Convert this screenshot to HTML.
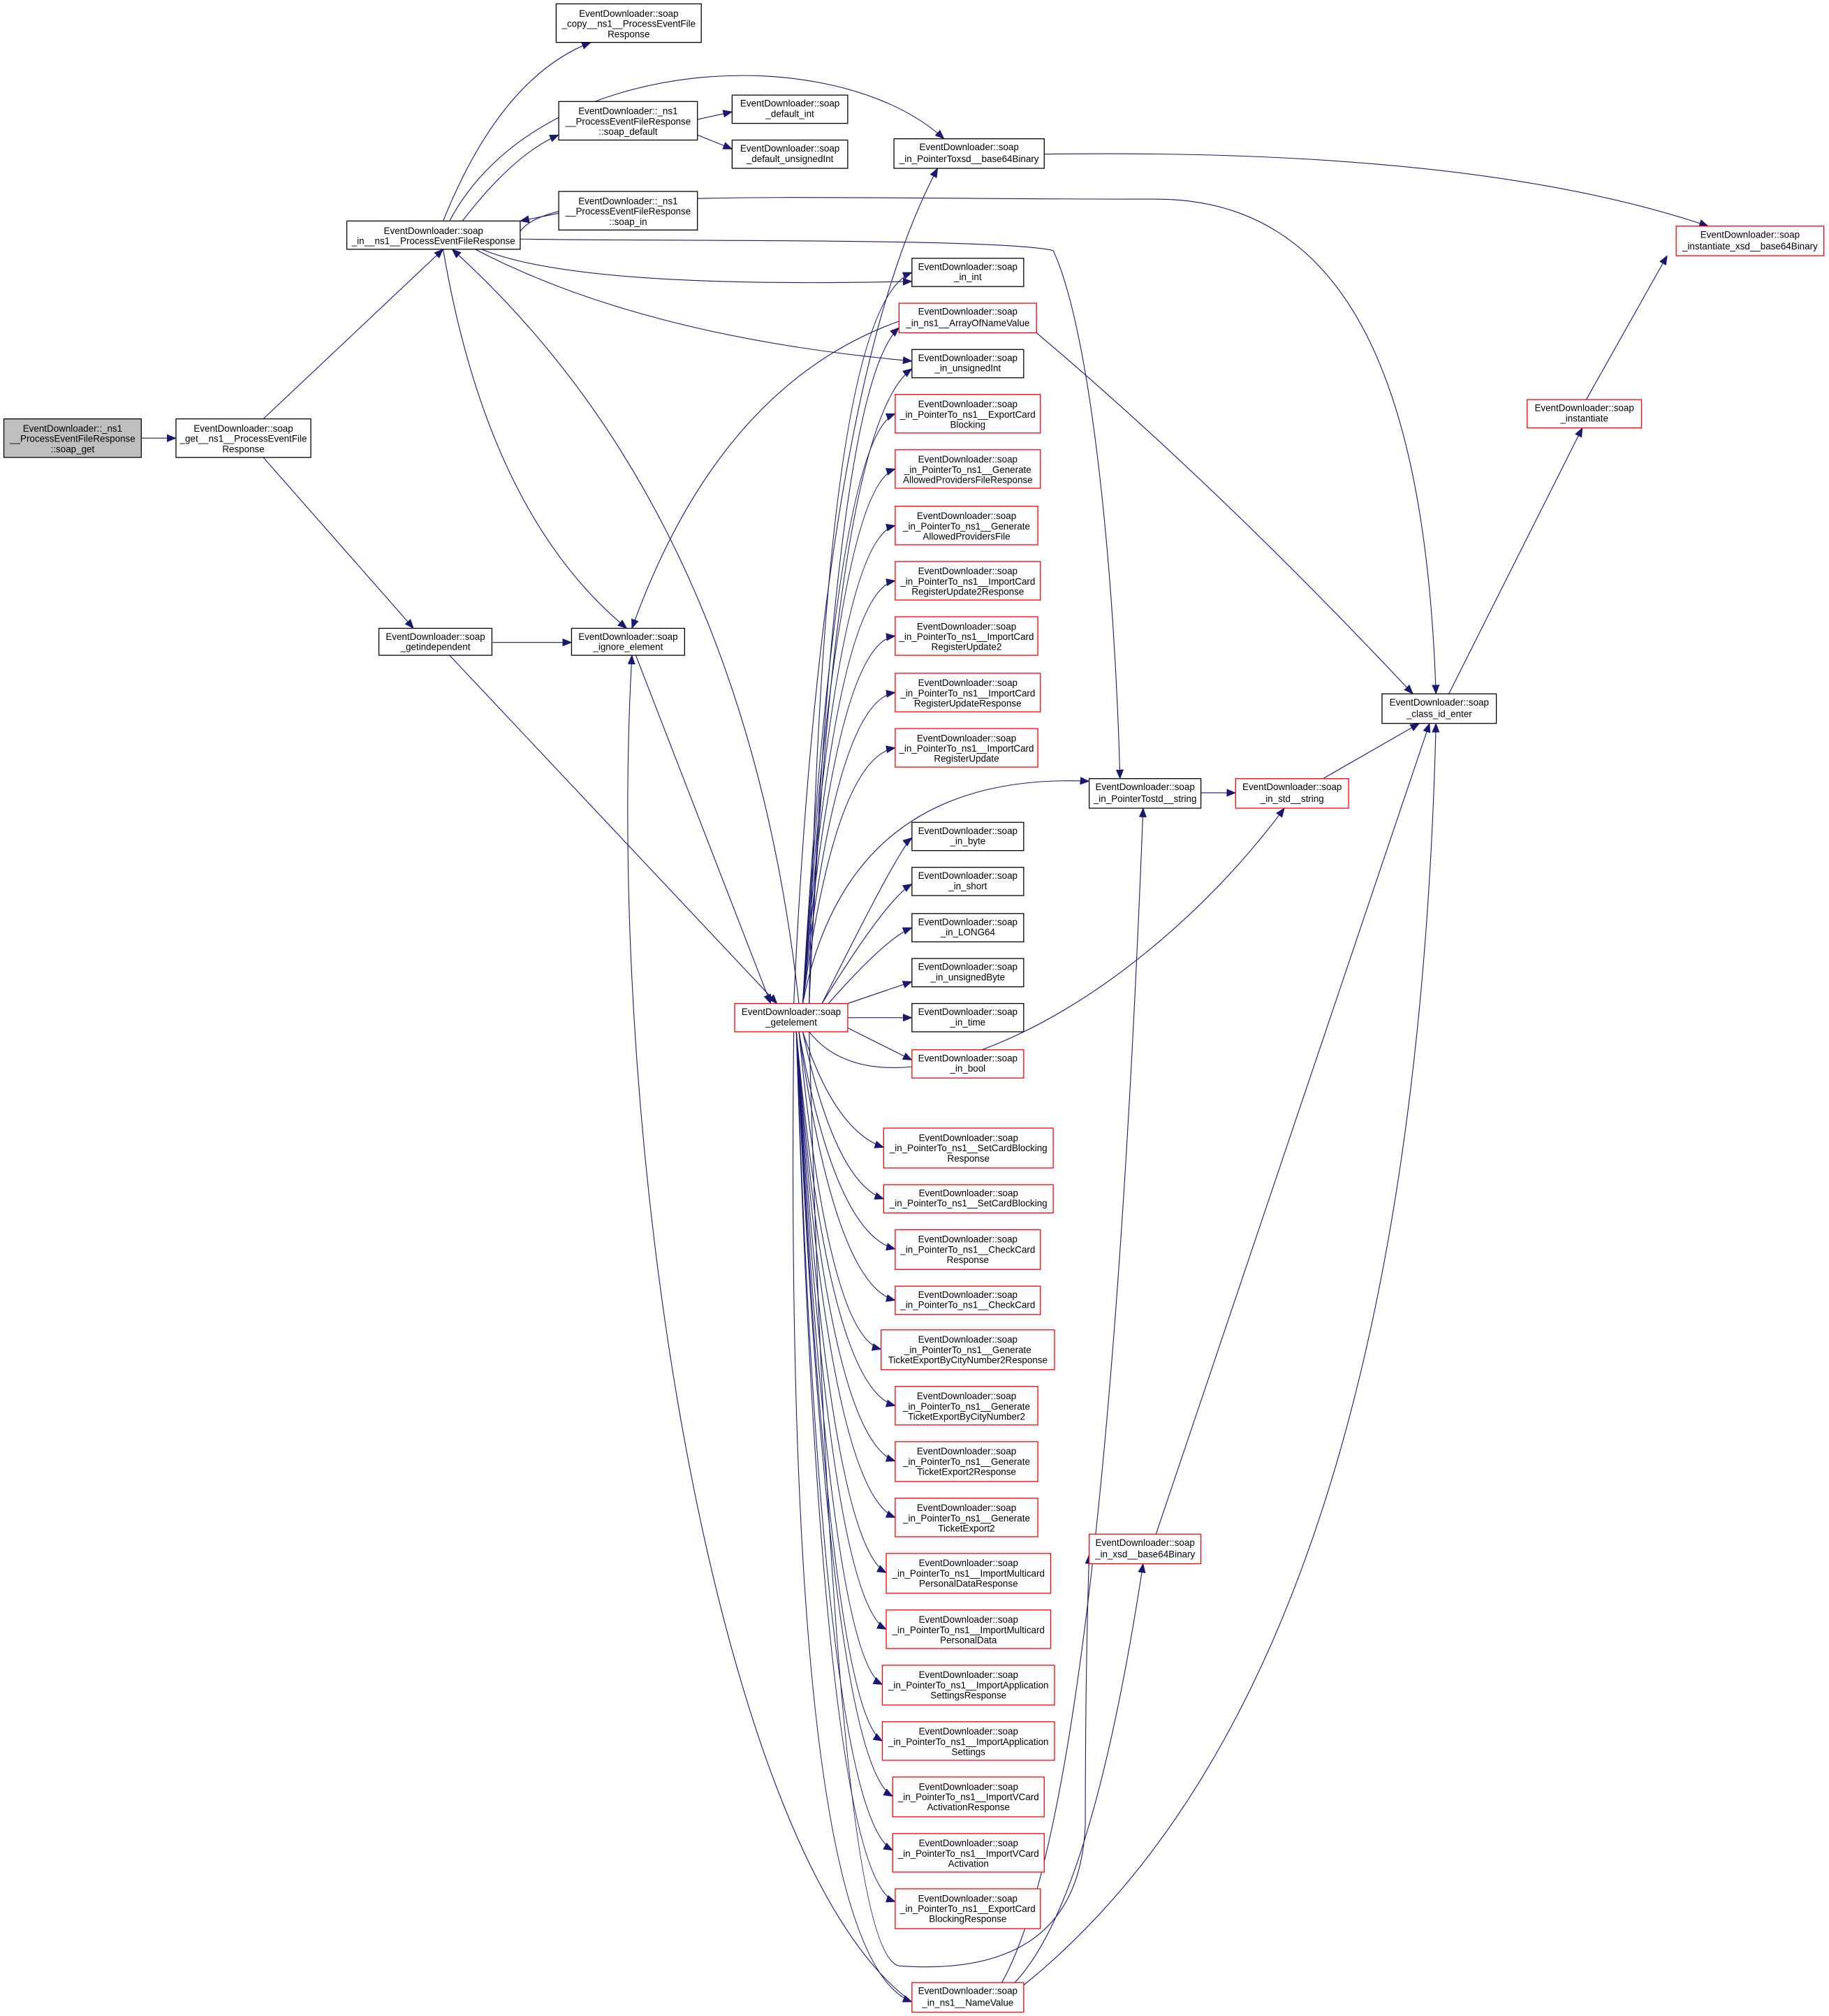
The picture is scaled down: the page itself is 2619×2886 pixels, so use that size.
<!DOCTYPE html>
<html><head><meta charset="utf-8"><style>
html,body{margin:0;padding:0;background:#fff;}
svg{display:block;}
text{font-family:"Liberation Sans",sans-serif;font-size:7.3px;fill:#000;text-anchor:middle;}
.b{fill:#fff;stroke:#000;stroke-width:0.7;}
.r{fill:#fff;stroke:#ff0000;stroke-width:0.7;}
.g{fill:#bfbfbf;stroke:#000;stroke-width:0.7;}
path{fill:none;stroke:#191970;stroke-width:0.6;}
</style></head><body>
<svg width="2619" height="2886" viewBox="0 0 1424 1569" preserveAspectRatio="none" xmlns="http://www.w3.org/2000/svg">
<defs><marker id="a" viewBox="0 0 10 10" refX="10" refY="5" markerWidth="7" markerHeight="7" markerUnits="userSpaceOnUse" orient="auto"><path d="M0,1 L10,5 L0,9 Z" style="fill:#191970;stroke:#191970"/></marker></defs>
<g marker-end="url(#a)">
<path d="M110,341 L137,341"/>
<path d="M205,326 L345,194"/>
<path d="M205,356 L322,489"/>
<path d="M383,500 L445,500"/>
<path d="M350,510 L605,781"/>
<path d="M345,172 Q390,60 460,33"/>
<path d="M360,172 Q400,120 435,105"/>
<path d="M543,93 L570,87"/>
<path d="M543,105 L570,116"/>
<path d="M435,166 L405,172"/>
<path d="M350,172 C420,40 650,30 735,108"/>
<path d="M405,180 C430,145 600,155 900,155 C1050,155 1110,300 1118,540"/>
<path d="M405,186 C500,188 780,185 820,195 C850,260 868,450 872,606"/>
<path d="M375,194 Q450,225 710,219"/>
<path d="M370,194 Q500,262 710,281"/>
<path d="M345,194 Q380,400 488,489"/>
<path d="M622,781 Q580,400 352,194"/>
<path d="M495,510 L600,781"/>
<path d="M700,250 Q560,300 492,489"/>
<path d="M710,1558 C560,1450 470,900 492,510"/>
<path d="M618,781 Q640,300 730,131"/>
<path d="M630,781 Q640,240 710,212"/>
<path d="M630,781 Q650,300 700,255"/>
<path d="M630,781 Q650,330 710,287"/>
<path d="M625,781 Q650,340 697,322"/>
<path d="M625,781 Q650,380 697,365"/>
<path d="M625,781 Q650,420 697,409"/>
<path d="M625,781 Q650,460 697,452"/>
<path d="M625,781 Q650,500 697,495"/>
<path d="M625,781 Q650,545 697,539"/>
<path d="M625,781 Q650,590 697,582"/>
<path d="M625,781 Q660,600 848,608"/>
<path d="M640,781 Q700,660 710,652"/>
<path d="M640,781 Q690,700 710,688"/>
<path d="M645,781 Q690,730 710,722"/>
<path d="M660,781 L710,764"/>
<path d="M660,792 L710,792"/>
<path d="M660,800 L710,825"/>
<path d="M630,803 C690,880 880,790 1000,629"/>
<path d="M625,803 Q650,880 688,893"/>
<path d="M625,803 Q650,920 688,933"/>
<path d="M622,803 Q650,960 697,972"/>
<path d="M622,803 Q650,1000 697,1012"/>
<path d="M622,803 Q645,1040 686,1050"/>
<path d="M620,803 Q645,1080 697,1094"/>
<path d="M620,803 Q645,1120 697,1137"/>
<path d="M620,803 Q645,1160 697,1181"/>
<path d="M620,803 Q645,1200 690,1224"/>
<path d="M620,803 Q645,1245 690,1268"/>
<path d="M620,803 Q645,1290 687,1311"/>
<path d="M620,803 Q645,1330 687,1355"/>
<path d="M620,803 Q645,1370 695,1398"/>
<path d="M620,803 Q640,1410 695,1440"/>
<path d="M620,803 Q640,1460 697,1480"/>
<path d="M618,803 Q610,1520 710,1558"/>
<path d="M807,259 Q950,380 1100,540"/>
<path d="M813,120 Q1150,115 1330,176"/>
<path d="M1235,311 L1298,199"/>
<path d="M1128,540 L1232,333"/>
<path d="M1030,606 L1105,563"/>
<path d="M935,617 L962,617"/>
<path d="M780,1543 Q860,1400 890,629"/>
<path d="M790,1543 Q850,1480 890,1217"/>
<path d="M797,1545 Q1100,1300 1118,563"/>
<path d="M900,1194 L1113,563"/>
<path d="M630,803 Q650,1520 700,1530 Q840,1540 845,1420 Q845,1300 848,1210"/>
</g>
<g>
<rect class="g" x="3" y="326" width="107" height="30"/><text x="56.5"><tspan x="56.5" y="336">EventDownloader::_ns1</tspan><tspan x="56.5" y="344">__ProcessEventFileResponse</tspan><tspan x="56.5" y="352">::soap_get</tspan></text>
<rect class="b" x="137" y="326" width="105" height="30"/><text><tspan x="189.5" y="336">EventDownloader::soap</tspan><tspan x="189.5" y="344">_get__ns1__ProcessEventFile</tspan><tspan x="189.5" y="352">Response</tspan></text>
<rect class="b" x="270" y="172" width="135" height="22"/><text><tspan x="337.5" y="182">EventDownloader::soap</tspan><tspan x="337.5" y="190">_in__ns1__ProcessEventFileResponse</tspan></text>
<rect class="b" x="295" y="489" width="88" height="21"/><text><tspan x="339" y="498">EventDownloader::soap</tspan><tspan x="339" y="506">_getindependent</tspan></text>
<rect class="b" x="445" y="489" width="88" height="21"/><text><tspan x="489" y="498">EventDownloader::soap</tspan><tspan x="489" y="506">_ignore_element</tspan></text>
<rect class="r" x="572" y="781" width="88" height="22"/><text><tspan x="616" y="790">EventDownloader::soap</tspan><tspan x="616" y="798">_getelement</tspan></text>
<rect class="b" x="433" y="3" width="113" height="30"/><text><tspan x="489.5" y="13">EventDownloader::soap</tspan><tspan x="489.5" y="21">_copy__ns1__ProcessEventFile</tspan><tspan x="489.5" y="29">Response</tspan></text>
<rect class="b" x="435" y="79" width="108" height="30"/><text><tspan x="489" y="89">EventDownloader::_ns1</tspan><tspan x="489" y="97">__ProcessEventFileResponse</tspan><tspan x="489" y="105">::soap_default</tspan></text>
<rect class="b" x="570" y="74" width="90" height="22"/><text><tspan x="615" y="83">EventDownloader::soap</tspan><tspan x="615" y="91">_default_int</tspan></text>
<rect class="b" x="570" y="109" width="90" height="22"/><text><tspan x="615" y="118">EventDownloader::soap</tspan><tspan x="615" y="126">_default_unsignedInt</tspan></text>
<rect class="b" x="435" y="149" width="108" height="30"/><text><tspan x="489" y="159">EventDownloader::_ns1</tspan><tspan x="489" y="167">__ProcessEventFileResponse</tspan><tspan x="489" y="175">::soap_in</tspan></text>
<rect class="b" x="696" y="108" width="117" height="23"/><text><tspan x="754.5" y="117">EventDownloader::soap</tspan><tspan x="754.5" y="126">_in_PointerToxsd__base64Binary</tspan></text>
<rect class="b" x="710" y="201" width="87" height="22"/><text><tspan x="753.5" y="210">EventDownloader::soap</tspan><tspan x="753.5" y="218">_in_int</tspan></text>
<rect class="r" x="700" y="236" width="107" height="23"/><text><tspan x="753.5" y="245">EventDownloader::soap</tspan><tspan x="753.5" y="254">_in_ns1__ArrayOfNameValue</tspan></text>
<rect class="b" x="710" y="272" width="87" height="22"/><text><tspan x="753.5" y="281">EventDownloader::soap</tspan><tspan x="753.5" y="289">_in_unsignedInt</tspan></text>
<rect class="r" x="697" y="307" width="113" height="30"/><text><tspan x="753.5" y="317">EventDownloader::soap</tspan><tspan x="753.5" y="325">_in_PointerTo_ns1__ExportCard</tspan><tspan x="753.5" y="333">Blocking</tspan></text>
<rect class="r" x="697" y="350" width="113" height="30"/><text><tspan x="753.5" y="360">EventDownloader::soap</tspan><tspan x="753.5" y="368">_in_PointerTo_ns1__Generate</tspan><tspan x="753.5" y="376">AllowedProvidersFileResponse</tspan></text>
<rect class="r" x="697" y="394" width="111" height="30"/><text><tspan x="752.5" y="404">EventDownloader::soap</tspan><tspan x="752.5" y="412">_in_PointerTo_ns1__Generate</tspan><tspan x="752.5" y="420">AllowedProvidersFile</tspan></text>
<rect class="r" x="697" y="437" width="113" height="30"/><text><tspan x="753.5" y="447">EventDownloader::soap</tspan><tspan x="753.5" y="455">_in_PointerTo_ns1__ImportCard</tspan><tspan x="753.5" y="463">RegisterUpdate2Response</tspan></text>
<rect class="r" x="697" y="480" width="111" height="30"/><text><tspan x="752.5" y="490">EventDownloader::soap</tspan><tspan x="752.5" y="498">_in_PointerTo_ns1__ImportCard</tspan><tspan x="752.5" y="506">RegisterUpdate2</tspan></text>
<rect class="r" x="697" y="524" width="113" height="30"/><text><tspan x="753.5" y="534">EventDownloader::soap</tspan><tspan x="753.5" y="542">_in_PointerTo_ns1__ImportCard</tspan><tspan x="753.5" y="550">RegisterUpdateResponse</tspan></text>
<rect class="r" x="697" y="567" width="111" height="30"/><text><tspan x="752.5" y="577">EventDownloader::soap</tspan><tspan x="752.5" y="585">_in_PointerTo_ns1__ImportCard</tspan><tspan x="752.5" y="593">RegisterUpdate</tspan></text>
<rect class="b" x="848" y="606" width="87" height="23"/><text><tspan x="891.5" y="615">EventDownloader::soap</tspan><tspan x="891.5" y="624">_in_PointerTostd__string</tspan></text>
<rect class="r" x="962" y="606" width="88" height="23"/><text><tspan x="1006" y="615">EventDownloader::soap</tspan><tspan x="1006" y="624">_in_std__string</tspan></text>
<rect class="b" x="1076" y="540" width="89" height="23"/><text><tspan x="1120.5" y="549">EventDownloader::soap</tspan><tspan x="1120.5" y="558">_class_id_enter</tspan></text>
<rect class="r" x="1189" y="311" width="89" height="22"/><text><tspan x="1233.5" y="320">EventDownloader::soap</tspan><tspan x="1233.5" y="328">_instantiate</tspan></text>
<rect class="r" x="1305" y="176" width="115" height="23"/><text><tspan x="1362.5" y="185">EventDownloader::soap</tspan><tspan x="1362.5" y="194">_instantiate_xsd__base64Binary</tspan></text>
<rect class="b" x="710" y="640" width="87" height="22"/><text><tspan x="753.5" y="649">EventDownloader::soap</tspan><tspan x="753.5" y="657">_in_byte</tspan></text>
<rect class="b" x="710" y="675" width="87" height="22"/><text><tspan x="753.5" y="684">EventDownloader::soap</tspan><tspan x="753.5" y="692">_in_short</tspan></text>
<rect class="b" x="710" y="711" width="87" height="22"/><text><tspan x="753.5" y="720">EventDownloader::soap</tspan><tspan x="753.5" y="728">_in_LONG64</tspan></text>
<rect class="b" x="710" y="746" width="87" height="22"/><text><tspan x="753.5" y="755">EventDownloader::soap</tspan><tspan x="753.5" y="763">_in_unsignedByte</tspan></text>
<rect class="b" x="710" y="781" width="87" height="22"/><text><tspan x="753.5" y="790">EventDownloader::soap</tspan><tspan x="753.5" y="798">_in_time</tspan></text>
<rect class="r" x="710" y="817" width="87" height="22"/><text><tspan x="753.5" y="826">EventDownloader::soap</tspan><tspan x="753.5" y="834">_in_bool</tspan></text>
<rect class="r" x="688" y="878" width="132" height="31"/><text><tspan x="754" y="888">EventDownloader::soap</tspan><tspan x="754" y="896">_in_PointerTo_ns1__SetCardBlocking</tspan><tspan x="754" y="904">Response</tspan></text>
<rect class="r" x="688" y="922" width="132" height="22"/><text><tspan x="754" y="931">EventDownloader::soap</tspan><tspan x="754" y="939">_in_PointerTo_ns1__SetCardBlocking</tspan></text>
<rect class="r" x="697" y="957" width="113" height="31"/><text><tspan x="753.5" y="967">EventDownloader::soap</tspan><tspan x="753.5" y="975">_in_PointerTo_ns1__CheckCard</tspan><tspan x="753.5" y="983">Response</tspan></text>
<rect class="r" x="697" y="1001" width="113" height="22"/><text><tspan x="753.5" y="1010">EventDownloader::soap</tspan><tspan x="753.5" y="1018">_in_PointerTo_ns1__CheckCard</tspan></text>
<rect class="r" x="686" y="1035" width="135" height="31"/><text><tspan x="753.5" y="1045">EventDownloader::soap</tspan><tspan x="753.5" y="1053">_in_PointerTo_ns1__Generate</tspan><tspan x="753.5" y="1061">TicketExportByCityNumber2Response</tspan></text>
<rect class="r" x="697" y="1079" width="111" height="30"/><text><tspan x="752.5" y="1089">EventDownloader::soap</tspan><tspan x="752.5" y="1097">_in_PointerTo_ns1__Generate</tspan><tspan x="752.5" y="1105">TicketExportByCityNumber2</tspan></text>
<rect class="r" x="697" y="1122" width="111" height="31"/><text><tspan x="752.5" y="1132">EventDownloader::soap</tspan><tspan x="752.5" y="1140">_in_PointerTo_ns1__Generate</tspan><tspan x="752.5" y="1148">TicketExport2Response</tspan></text>
<rect class="r" x="697" y="1166" width="111" height="30"/><text><tspan x="752.5" y="1176">EventDownloader::soap</tspan><tspan x="752.5" y="1184">_in_PointerTo_ns1__Generate</tspan><tspan x="752.5" y="1192">TicketExport2</tspan></text>
<rect class="r" x="690" y="1209" width="128" height="31"/><text><tspan x="754" y="1219">EventDownloader::soap</tspan><tspan x="754" y="1227">_in_PointerTo_ns1__ImportMulticard</tspan><tspan x="754" y="1235">PersonalDataResponse</tspan></text>
<rect class="r" x="690" y="1253" width="128" height="30"/><text><tspan x="754" y="1263">EventDownloader::soap</tspan><tspan x="754" y="1271">_in_PointerTo_ns1__ImportMulticard</tspan><tspan x="754" y="1279">PersonalData</tspan></text>
<rect class="r" x="687" y="1296" width="134" height="31"/><text><tspan x="754" y="1306">EventDownloader::soap</tspan><tspan x="754" y="1314">_in_PointerTo_ns1__ImportApplication</tspan><tspan x="754" y="1322">SettingsResponse</tspan></text>
<rect class="r" x="687" y="1340" width="134" height="30"/><text><tspan x="754" y="1350">EventDownloader::soap</tspan><tspan x="754" y="1358">_in_PointerTo_ns1__ImportApplication</tspan><tspan x="754" y="1366">Settings</tspan></text>
<rect class="r" x="695" y="1383" width="118" height="31"/><text><tspan x="754" y="1393">EventDownloader::soap</tspan><tspan x="754" y="1401">_in_PointerTo_ns1__ImportVCard</tspan><tspan x="754" y="1409">ActivationResponse</tspan></text>
<rect class="r" x="695" y="1427" width="118" height="30"/><text><tspan x="754" y="1437">EventDownloader::soap</tspan><tspan x="754" y="1445">_in_PointerTo_ns1__ImportVCard</tspan><tspan x="754" y="1453">Activation</tspan></text>
<rect class="r" x="697" y="1470" width="113" height="31"/><text><tspan x="753.5" y="1480">EventDownloader::soap</tspan><tspan x="753.5" y="1488">_in_PointerTo_ns1__ExportCard</tspan><tspan x="753.5" y="1496">BlockingResponse</tspan></text>
<rect class="r" x="710" y="1543" width="87" height="23"/><text><tspan x="753.5" y="1552">EventDownloader::soap</tspan><tspan x="753.5" y="1561">_in_ns1__NameValue</tspan></text>
<rect class="r" x="848" y="1194" width="87" height="23"/><text><tspan x="891.5" y="1203">EventDownloader::soap</tspan><tspan x="891.5" y="1212">_in_xsd__base64Binary</tspan></text>
</g>
</svg>
</body></html>
